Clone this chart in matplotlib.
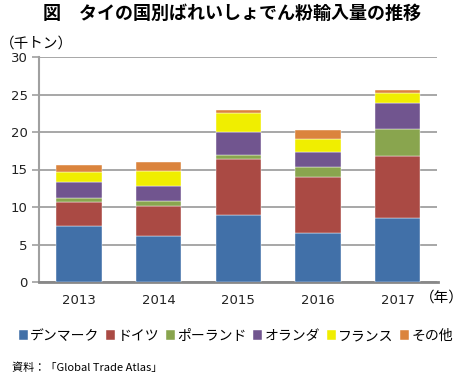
import matplotlib
matplotlib.use("Agg")
import matplotlib.pyplot as plt
import numpy as np

plt.rcParams['font.family'] = ['Noto Sans CJK JP', 'DejaVu Sans']

years = ["2013", "2014", "2015", "2016", "2017"]
series_names = ["デンマーク", "ドイツ", "ポーランド", "オランダ", "フランス", "その他"]
denmark = [7.5, 6.2, 9.0, 6.6, 8.5]
germany = [3.2, 4.0, 7.35, 7.45, 8.35]
poland = [0.45, 0.6, 0.6, 1.3, 3.55]
netherlands = [2.15, 2.05, 3.0, 1.95, 3.5]
france = [1.35, 1.9, 2.55, 1.75, 1.25]
other = [1.0, 1.3, 0.5, 1.25, 0.45]
colors = ["#4170A8", "#AA4A44", "#89A54E", "#71558F", "#F0EE00", "#DB843D"]
yticks = [0, 5, 10, 15, 20, 25, 30]

fig = plt.figure(figsize=(4.64, 3.76), dpi=100)
ax = fig.add_axes([39/464, 1-282/376, (437.5-39)/464, 225/376])

x = np.arange(len(years))
bottom = np.zeros(len(years))
handles = []
for name, vals, c in zip(series_names, [denmark, germany, poland, netherlands, france, other], colors):
    b = ax.bar(x, vals, width=0.57, bottom=bottom, color=c, label=name,
               edgecolor='white', linewidth=0.3, zorder=3)
    bottom += np.array(vals)
    handles.append(b)

ax.set_xlim(-0.5, len(years) - 0.5)
ax.set_ylim(0, 30)
ax.set_yticks(yticks)
ax.set_yticklabels([str(t) for t in yticks], fontsize=9.5, family=['DejaVu Sans'])
ax.set_xticks(x)
ax.set_xticklabels(years, fontsize=9.5, family=['DejaVu Sans'])
ax.tick_params(axis='x', length=0, pad=9, colors='#222222')
ax.tick_params(axis='y', length=5, width=1.2, color='#A0A0A0', pad=3, colors='#222222')
for t in ax.get_yticklines():
    t.set_color('#A0A0A0')
ax.yaxis.grid(True, color='#A0A0A0', linewidth=1.3, zorder=0)
ax.set_axisbelow(True)
for s in ['top', 'right']:
    ax.spines[s].set_visible(False)
ax.spines['left'].set_color('#A0A0A0')
ax.spines['left'].set_linewidth(1.5)
ax.spines['bottom'].set_color('#888888')
ax.spines['bottom'].set_linewidth(2)

fig.text(0.5, 1-13/376, "図　タイの国別ばれいしょでん粉輸入量の推移", ha='center', va='center',
         fontsize=13, fontweight='bold')
fig.text(0/464, 1-44/376, "（千トン）", ha='left', va='center', fontsize=10.5)
fig.text(464/464, 1-298/376, "（年）", ha='right', va='center', fontsize=10.5)

leg = fig.legend(handles=handles, loc='center', bbox_to_anchor=(236/464, 1-336/376), ncol=6,
                 frameon=False, fontsize=10, handlelength=0.65, handleheight=0.65,
                 handletextpad=0.15, columnspacing=0.5, borderaxespad=0, borderpad=0)
fig.text(12/464, 1-368/376, "資料：「Global Trade Atlas」", ha='left', va='center', fontsize=8)

fig.savefig("out.png", dpi=100)
